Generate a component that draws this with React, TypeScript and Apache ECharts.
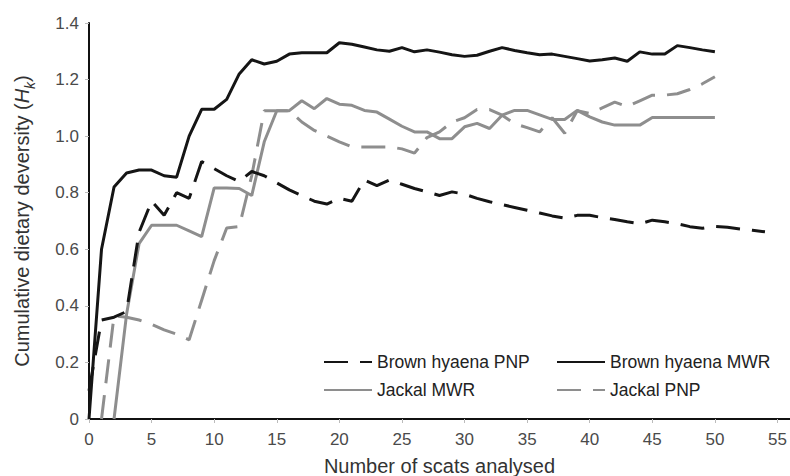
import React, { useEffect, useRef } from "react";
import * as echarts from "echarts";

// Cumulative dietary diversity (Hk) by number of scats analysed (index = scat count)
const brownHyaenaPNP = [
  0.1, 0.35, 0.36, 0.38, 0.66, 0.77, 0.72, 0.8, 0.78, 0.91,
  0.885, 0.86, 0.84, 0.875, 0.86, 0.835, 0.81, 0.79, 0.77, 0.76,
  0.78, 0.77, 0.845, 0.825, 0.845, 0.83, 0.815, 0.803, 0.79, 0.803,
  0.795, 0.78, 0.768, 0.758, 0.748, 0.738, 0.728, 0.718, 0.71, 0.72,
  0.72, 0.712, 0.705, 0.697, 0.69, 0.703, 0.697, 0.69, 0.68, 0.674,
  0.681, 0.678, 0.672, 0.667, 0.662,
];
const brownHyaenaMWR = [
  0, 0.6, 0.82, 0.87, 0.88, 0.88, 0.86, 0.855, 1.0, 1.095,
  1.095, 1.13, 1.22, 1.27, 1.255, 1.265, 1.29, 1.295, 1.295, 1.295,
  1.33, 1.325, 1.315, 1.305, 1.3, 1.313, 1.298, 1.305, 1.297, 1.288,
  1.282, 1.286, 1.3, 1.313, 1.303, 1.295, 1.288, 1.29, 1.282, 1.274,
  1.266, 1.27, 1.276, 1.265, 1.298, 1.29, 1.29, 1.32, 1.313, 1.305,
  1.298,
];
const jackalMWR = [
  null, null, 0, 0.37, 0.62, 0.685, 0.685, 0.685, 0.665, 0.645,
  0.817, 0.817, 0.815, 0.79, 0.98, 1.09, 1.09, 1.125, 1.097, 1.133,
  1.113, 1.109, 1.091, 1.085, 1.06, 1.035, 1.015, 1.015, 0.991, 0.991,
  1.033, 1.045, 1.027, 1.074, 1.091, 1.091, 1.075, 1.059, 1.059, 1.091,
  1.068, 1.05, 1.039, 1.039, 1.039, 1.066, 1.066, 1.066, 1.066, 1.066,
  1.066,
];
const jackalPNP = [
  null, 0, 0.365, 0.36, 0.35, 0.335, 0.315, 0.3, 0.28, 0.42,
  0.56, 0.675, 0.68, 0.86, 1.09, 1.09, 1.09, 1.05, 1.02, 1.0,
  0.98, 0.962, 0.962, 0.962, 0.962, 0.955, 0.94, 0.995, 1.015, 1.05,
  1.065, 1.094, 1.094, 1.074, 1.044, 1.03, 1.015, 1.065, 1.01, 1.09,
  1.08, 1.1, 1.12, 1.105, 1.125, 1.145, 1.145, 1.15, 1.165, 1.185,
  1.21,
];

const seriesNames = ["Brown hyaena PNP", "Brown hyaena MWR", "Jackal MWR", "Jackal PNP"];
const xTitle = "Number of scats analysed";

const toPairs = (arr: (number | null)[]) =>
  arr.map((v, i) => [i, v]).filter((p) => p[1] !== null);

export default function App() {
  const ref = useRef<HTMLDivElement>(null);
  useEffect(() => {
    if (!ref.current) return;
    const chart = echarts.init(ref.current, null, { renderer: "svg" });
    const font = "'Liberation Sans', Arial, sans-serif";
    const black = "#151515";
    const grey = "#8e8e8e";
    const dash = [24, 12];
    const legendBase = {
      orient: "vertical",
      top: 353,
      padding: 0,
      itemWidth: 48,
      itemHeight: 14,
      itemGap: 10,
      itemStyle: { opacity: 0, borderWidth: 0 },
      textStyle: { fontSize: 17.5, color: "#222", fontFamily: font },
    };
    chart.setOption({
      animation: false,
      textStyle: { fontFamily: font },
      grid: {
        left: 89,
        right: 0,
        top: 23,
        bottom: 57,
        containLabel: false,
        outerBoundsMode: "none",
      },
      legend: [
        { ...legendBase, left: 323, data: [seriesNames[0], seriesNames[2]] },
        { ...legendBase, left: 556, data: [seriesNames[1], seriesNames[3]] },
      ],
      xAxis: {
        type: "value",
        min: 0,
        max: 56,
        interval: 5,
        name: xTitle,
        nameLocation: "middle",
        nameGap: 37,
        nameTextStyle: { fontSize: 20, color: "#333", fontFamily: font },
        axisLine: { show: true, lineStyle: { color: "#111", width: 2 } },
        axisTick: { show: true, length: 4, lineStyle: { color: "#bbb" } },
        axisLabel: {
          fontSize: 17,
          color: "#4a4a4a",
          margin: 12,
          formatter: (v: number) => (v % 5 === 0 ? String(v) : ""),
        },
        splitLine: { show: false },
      },
      yAxis: {
        type: "value",
        min: 0,
        max: 1.4,
        interval: 0.2,
        name: "{n|Cumulative dietary deversity (}{i|H}{k|k}{n|)}",
        nameLocation: "middle",
        nameRotate: 90,
        nameGap: 57,
        nameTextStyle: {
          fontSize: 20,
          color: "#333",
          fontFamily: font,
          rich: {
            n: { fontSize: 20, color: "#333", fontFamily: font },
            i: { fontSize: 20, color: "#333", fontStyle: "italic", fontFamily: font },
            k: {
              fontSize: 14,
              color: "#333",
              fontStyle: "italic",
              fontFamily: font,
              verticalAlign: "bottom",
              padding: [0, 0, -5, 0],
            },
          },
        },
        axisLine: { show: true, lineStyle: { color: "#111", width: 2 } },
        axisTick: { show: true, length: 4, lineStyle: { color: "#bbb" } },
        axisLabel: {
          fontSize: 17,
          color: "#4a4a4a",
          margin: 10,
          formatter: (v: number) => (v === 0 ? "0" : v.toFixed(1)),
        },
        splitLine: { show: false },
      },
      series: [
        {
          name: seriesNames[2],
          type: "line",
          showSymbol: false,
          symbol: "none",
          data: toPairs(jackalMWR),
          lineStyle: { color: grey, width: 3 },
          itemStyle: { color: grey },
        },
        {
          name: seriesNames[3],
          type: "line",
          showSymbol: false,
          symbol: "none",
          data: toPairs(jackalPNP),
          lineStyle: { color: grey, width: 3, type: dash },
          itemStyle: { color: grey },
        },
        {
          name: seriesNames[0],
          type: "line",
          showSymbol: false,
          symbol: "none",
          data: toPairs(brownHyaenaPNP),
          lineStyle: { color: black, width: 3, type: dash },
          itemStyle: { color: black },
        },
        {
          name: seriesNames[1],
          type: "line",
          showSymbol: false,
          symbol: "none",
          data: toPairs(brownHyaenaMWR),
          lineStyle: { color: black, width: 3 },
          itemStyle: { color: black },
        },
      ],
    });
    return () => chart.dispose();
  }, []);
  return (
    <div
      ref={ref}
      style={{ position: "fixed", left: 0, top: 0, width: 790, height: 476, background: "#fff" }}
    />
  );
}
